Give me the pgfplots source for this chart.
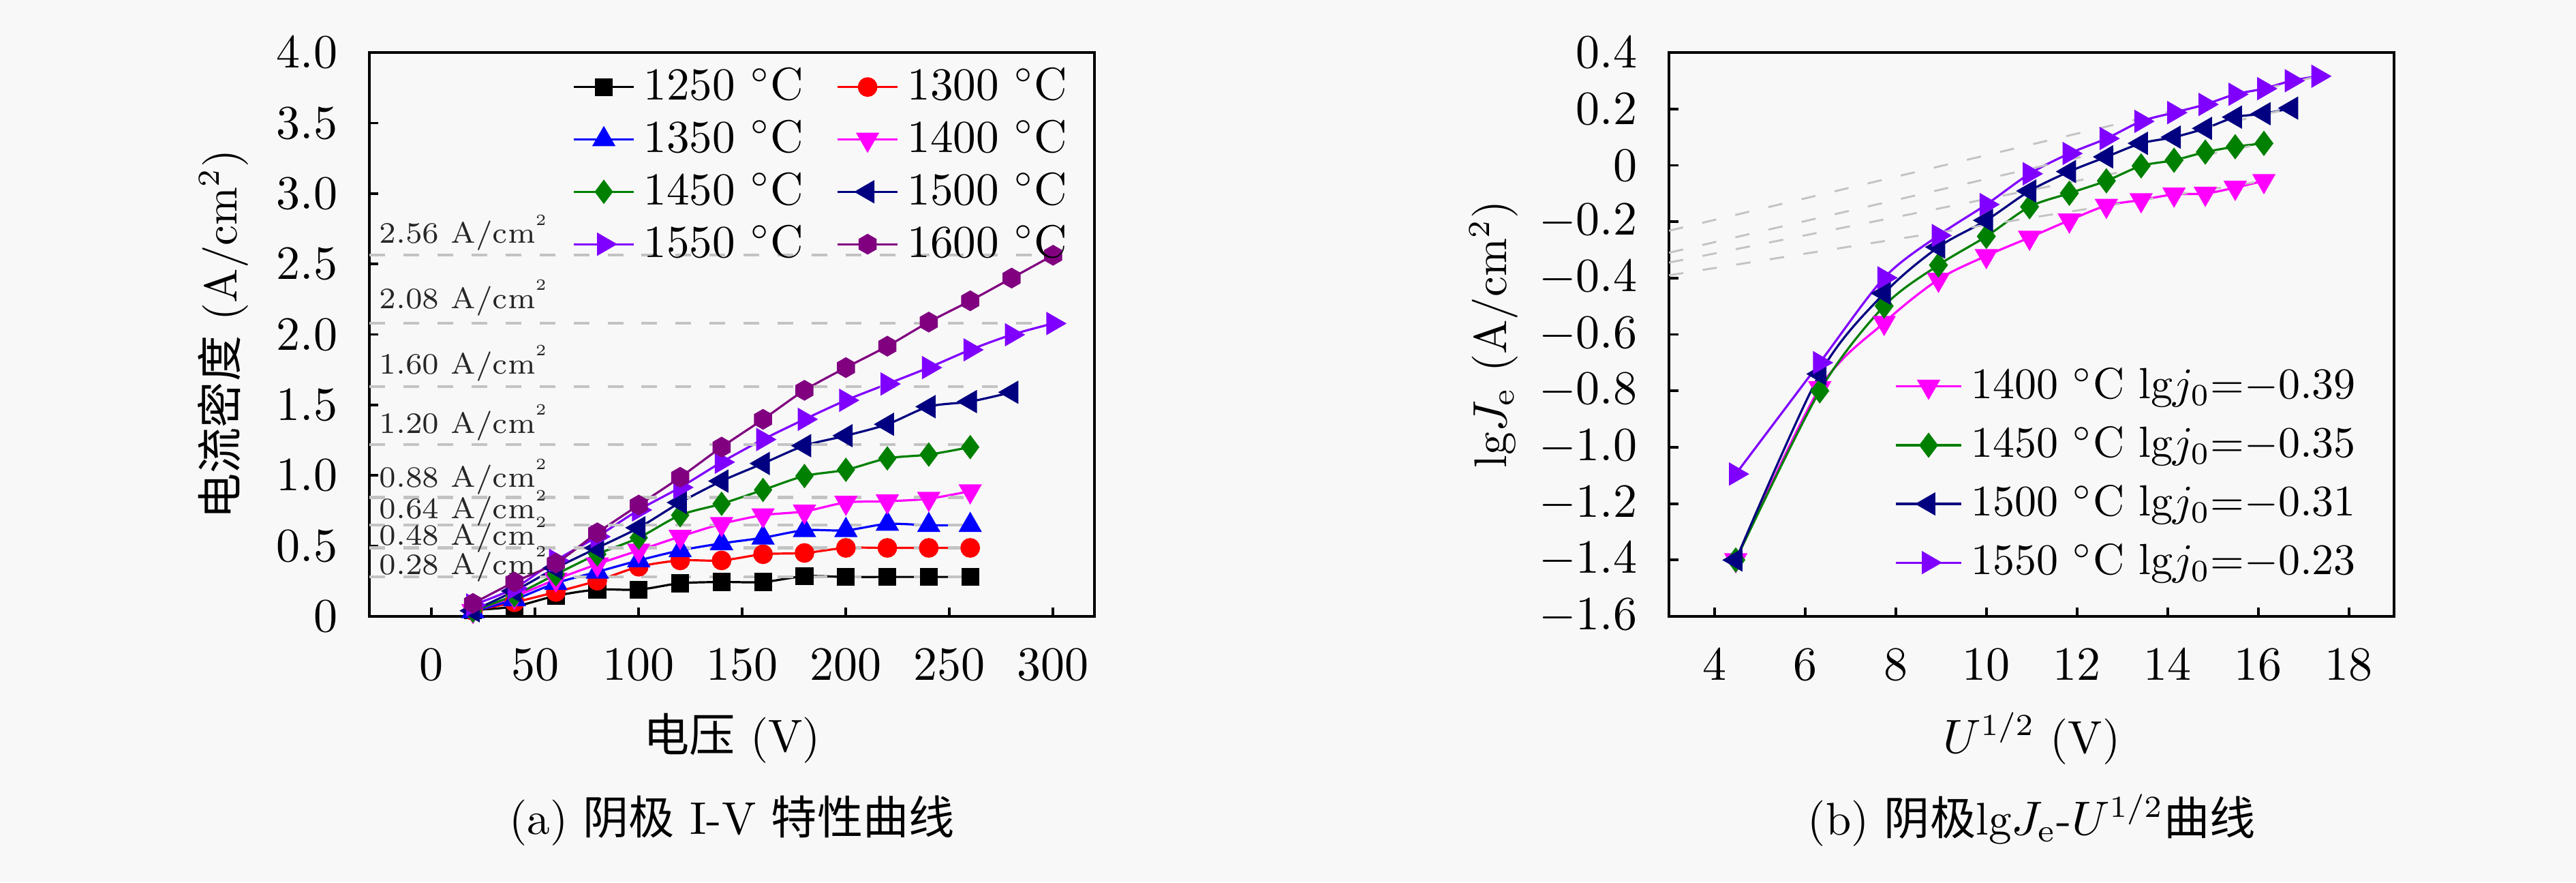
\documentclass[border=0pt]{standalone}
\usepackage{fontspec}
\usepackage{pgfplots}
\pgfplotsset{compat=1.18}
\newfontfamily\cjk{Noto Sans CJK SC}
\definecolor{bg}{RGB}{248,248,248}
\definecolor{c1250}{rgb}{0,0,0}
\definecolor{c1300}{rgb}{1,0,0}
\definecolor{c1350}{rgb}{0,0,1}
\definecolor{c1400}{rgb}{1,0,1}
\definecolor{c1450}{rgb}{0,0.5,0}
\definecolor{c1500}{rgb}{0,0,0.5}
\definecolor{c1550}{rgb}{0.5,0,1}
\definecolor{c1600}{rgb}{0.5,0,0.5}
\definecolor{dashA}{RGB}{195,195,195}
\definecolor{dashB}{RGB}{195,195,195}
\pgfdeclareplotmark{hexagon*}{%
  \pgfpathmoveto{\pgfqpointpolar{90}{\pgfplotmarksize}}%
  \pgfpathlineto{\pgfqpointpolar{150}{\pgfplotmarksize}}%
  \pgfpathlineto{\pgfqpointpolar{210}{\pgfplotmarksize}}%
  \pgfpathlineto{\pgfqpointpolar{270}{\pgfplotmarksize}}%
  \pgfpathlineto{\pgfqpointpolar{330}{\pgfplotmarksize}}%
  \pgfpathlineto{\pgfqpointpolar{30}{\pgfplotmarksize}}%
  \pgfpathclose
  \pgfusepathqfillstroke
}
\newcommand{\mainfs}{\fontsize{10.5}{12.6}\selectfont}
\newcommand{\sq}{\raisebox{0.6em}{\fontsize{3.6}{4}\selectfont 2}}
\pgfplotsset{
  myaxis/.style={
    scale only axis, width=166.25pt, height=129.2pt,
    anchor=south west, clip=false,
    tick align=inside, xtick pos=bottom, ytick pos=left,
    major tick length=2.1pt,
    axis line style={line width=0.6pt},
    every tick/.style={black, line width=0.6pt},
    tick label style={font=\mainfs},
    xticklabel style={yshift=-4pt},
    yticklabel style={xshift=-3.8pt},
    label style={font=\mainfs},
    xlabel style={at={(axis description cs:0.5,-0.2167)}, anchor=center},
    legend cell align=left,
  },
  ser/.style={color=#1, line width=0.5pt, smooth, mark options={solid, fill=#1, draw=#1}},
}
\begin{document}
\begin{tikzpicture}
\path[use as bounding box, fill=bg] (0,0) rectangle (590.6pt,202.19pt);
% ---------------- (a)
\begin{axis}[myaxis, at={(84.69pt,60.94pt)},
  xmin=-30, xmax=320, ymin=0, ymax=4,
  xtick={0,50,100,150,200,250,300},
  ytick={0,0.5,1,1.5,2,2.5,3,3.5,4},
  yticklabels={$0$,$0.5$,$1.0$,$1.5$,$2.0$,$2.5$,$3.0$,$3.5$,$4.0$},
  xlabel={{\cjk 电压} (V)},
  ylabel={{\cjk 电流密度} (A/cm$^2$)},
  ylabel style={at={(axis description cs:-0.2021,0.5)}, anchor=center},
  legend columns=2,
  legend style={at={(rel axis cs:1,1)}, anchor=north east, xshift=-4pt, yshift=-1.7pt,
    draw=none, fill=none, font=\mainfs, inner sep=0pt, row sep=0pt,
    nodes={inner xsep=2pt, inner ysep=1.55pt},
    /tikz/every even column/.append style={column sep=5.5pt}},
  legend image code/.code={\draw[mark repeat=2,mark phase=2] plot coordinates {(0pt,0pt) (6.9pt,0pt) (13.8pt,0pt)};},
]
\addplot[ser=c1250, mark=square*, mark size=1.8pt] coordinates {
(20,0.045) (40,0.07) (60,0.146) (80,0.19) (100,0.19) (120,0.235) (140,0.244) (160,0.244) (180,0.285) (200,0.28) (220,0.28) (240,0.28) (260,0.28)};
\addlegendentry{1250 $^{\circ}$C}
\addplot[ser=c1300, mark=*, mark size=2pt] coordinates {
(20,0.04) (40,0.10) (60,0.173) (80,0.253) (100,0.352) (120,0.397) (140,0.397) (160,0.441) (180,0.45) (200,0.486) (220,0.486) (240,0.486) (260,0.486)};
\addlegendentry{1300 $^{\circ}$C}
\addplot[ser=c1350, mark=triangle*, mark size=2.6pt] coordinates {
(20,0.035) (40,0.12) (60,0.236) (80,0.316) (100,0.397) (120,0.468) (140,0.518) (160,0.558) (180,0.611) (200,0.611) (220,0.656) (240,0.647) (260,0.647)};
\addlegendentry{1350 $^{\circ}$C}
\addplot[ser=c1400, mark=triangle*, mark size=2.6pt, mark options={rotate=180}] coordinates {
(20,0.04) (40,0.14) (60,0.262) (80,0.37) (100,0.468) (120,0.566) (140,0.656) (160,0.718) (180,0.745) (200,0.808) (220,0.817) (240,0.835) (260,0.889)};
\addlegendentry{1400 $^{\circ}$C}
\addplot[ser=c1450, mark=diamond*, mark size=2.4pt] coordinates {
(20,0.04) (40,0.15) (60,0.298) (80,0.441) (100,0.558) (120,0.718) (140,0.799) (160,0.897) (180,0.996) (200,1.04) (220,1.121) (240,1.148) (260,1.201)};
\addlegendentry{1450 $^{\circ}$C}
\addplot[ser=c1500, mark=triangle*, mark size=2.6pt, mark options={rotate=90}] coordinates {
(20,0.04) (40,0.18) (60,0.343) (80,0.486) (100,0.629) (120,0.808) (140,0.96) (160,1.085) (180,1.211) (200,1.282) (220,1.363) (240,1.488) (260,1.524) (280,1.59)};
\addlegendentry{1500 $^{\circ}$C}
\addplot[ser=c1550, mark=triangle*, mark size=2.6pt, mark options={rotate=-90}] coordinates {
(20,0.081) (40,0.20) (60,0.397) (80,0.566) (100,0.755) (120,0.915) (140,1.094) (160,1.255) (180,1.398) (200,1.533) (220,1.649) (240,1.765) (260,1.891) (280,1.998) (300,2.078)};
\addlegendentry{1550 $^{\circ}$C}
\addplot[ser=c1600, mark=hexagon*, mark size=2.1pt] coordinates {
(20,0.092) (40,0.244) (60,0.378) (80,0.593) (100,0.79) (120,0.987) (140,1.201) (160,1.398) (180,1.604) (200,1.765) (220,1.917) (240,2.088) (260,2.239) (280,2.40) (300,2.562)};
\addlegendentry{1600 $^{\circ}$C}
% reference levels
\pgfplotsset{refl/.style={forget plot, dashA, line width=0.7pt, dash pattern=on 3.6pt off 4.2pt}}
\addplot[refl] coordinates {(-30,2.565) (300,2.565)};
\addplot[refl] coordinates {(-30,2.08) (300,2.08)};
\addplot[refl] coordinates {(-30,1.63) (280,1.63)};
\addplot[refl] coordinates {(-30,1.22) (260,1.22)};
\addplot[refl] coordinates {(-30,0.845) (260,0.845)};
\addplot[refl] coordinates {(-30,0.648) (260,0.648)};
\addplot[refl] coordinates {(-30,0.486) (260,0.486)};
\addplot[refl] coordinates {(-30,0.28) (260,0.28)};
\begin{scope}[every node/.style={anchor=base west, inner sep=0pt, font=\fontsize{6.8}{8}\selectfont, text=black!85}]
\node at (axis cs:-25.7,2.646) {2.56 A/cm\sq};
\node at (axis cs:-25.7,2.186) {2.08 A/cm\sq};
\node at (axis cs:-25.7,1.722) {1.60 A/cm\sq};
\node at (axis cs:-25.7,1.301) {1.20 A/cm\sq};
\node at (axis cs:-25.7,0.915) {0.88 A/cm\sq};
\node at (axis cs:-25.7,0.692) {0.64 A/cm\sq};
\node at (axis cs:-25.7,0.504) {0.48 A/cm\sq};
\node at (axis cs:-25.7,0.298) {0.28 A/cm\sq};
\end{scope}
\end{axis}
% ---------------- (b)
\begin{axis}[myaxis, at={(382.66pt,60.94pt)},
  xmin=3, xmax=19, ymin=-1.6, ymax=0.4,
  xtick={4,6,8,10,12,14,16,18},
  ytick={-1.6,-1.4,-1.2,-1.0,-0.8,-0.6,-0.4,-0.2,0,0.2,0.4},
  yticklabels={$-1.6$,$-1.4$,$-1.2$,$-1.0$,$-0.8$,$-0.6$,$-0.4$,$-0.2$,$0$,$0.2$,$0.4$},
  xlabel={$U^{1/2}$ (V)},
  ylabel={lg$J_\mathrm{e}$ (A/cm$^2$)},
  ylabel style={at={(axis description cs:-0.2418,0.5)}, anchor=center},
  legend style={at={(rel axis cs:1,0)}, anchor=south east, xshift=-6.6pt, yshift=5.4pt,
    draw=none, fill=none, font=\fontsize{10}{12}\selectfont, inner sep=0pt, row sep=0pt,
    nodes={inner xsep=2pt, inner ysep=2.45pt}},
  legend image code/.code={\draw[mark repeat=2,mark phase=2] plot coordinates {(0pt,0pt) (7.5pt,0pt) (15pt,0pt)};},
]
\addplot[ser=c1400, mark=triangle*, mark size=2.6pt, mark options={rotate=180}] coordinates {
(4.472,-1.40) (6.325,-0.79) (7.746,-0.558) (8.944,-0.405) (10,-0.321) (10.954,-0.256) (11.832,-0.195) (12.649,-0.143) (13.416,-0.123) (14.142,-0.103) (14.832,-0.100) (15.492,-0.079) (16.125,-0.055)};
\addlegendentry{1400 $^{\circ}$C lg$j_0$=$-$0.39}
\addplot[ser=c1450, mark=diamond*, mark size=2.5pt] coordinates {
(4.472,-1.40) (6.325,-0.80) (7.746,-0.499) (8.944,-0.354) (10,-0.252) (10.954,-0.147) (11.832,-0.099) (12.649,-0.055) (13.416,-0.002) (14.142,0.018) (14.832,0.047) (15.492,0.066) (16.125,0.078)};
\addlegendentry{1450 $^{\circ}$C lg$j_0$=$-$0.35}
\addplot[ser=c1500, mark=triangle*, mark size=2.6pt, mark options={rotate=90}] coordinates {
(4.472,-1.40) (6.325,-0.74) (7.746,-0.454) (8.944,-0.29) (10,-0.195) (10.954,-0.091) (11.832,-0.022) (12.649,0.030) (13.416,0.078) (14.142,0.10) (14.832,0.131) (15.492,0.171) (16.125,0.183) (16.733,0.203)};
\addlegendentry{1500 $^{\circ}$C lg$j_0$=$-$0.31}
\addplot[ser=c1550, mark=triangle*, mark size=2.6pt, mark options={rotate=-90}] coordinates {
(4.472,-1.095) (6.325,-0.70) (7.746,-0.399) (8.944,-0.249) (10,-0.139) (10.954,-0.030) (11.832,0.042) (12.649,0.095) (13.416,0.156) (14.142,0.187) (14.832,0.216) (15.492,0.252) (16.125,0.272) (16.733,0.30) (17.321,0.316)};
\addlegendentry{1550 $^{\circ}$C lg$j_0$=$-$0.23}
\pgfplotsset{fitl/.style={forget plot, dashB, line width=0.45pt, dash pattern=on 3.3pt off 4.5pt}}
\addplot[fitl] coordinates {(3,-0.39) (16.125,-0.055)};
\addplot[fitl] coordinates {(3,-0.345) (16.125,0.078)};
\addplot[fitl] coordinates {(3,-0.31) (16.733,0.203)};
\addplot[fitl] coordinates {(3,-0.232) (17.321,0.316)};
\end{axis}
\node[font=\mainfs] at (167.8pt,14.2pt) {(a) {\cjk 阴极} I-V {\cjk 特性曲线}};
\node[font=\mainfs] at (465.8pt,14.2pt) {(b) {\cjk 阴极}lg$J_\mathrm{e}$-$U^{1/2}${\cjk 曲线}};
\end{tikzpicture}
\end{document}
